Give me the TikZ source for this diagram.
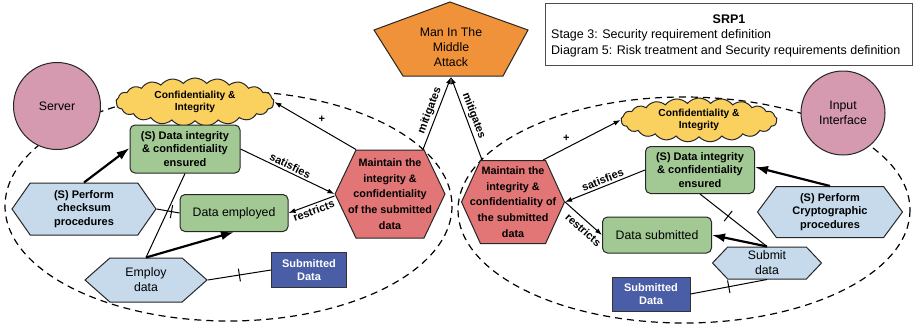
\documentclass[tikz,border=0pt]{standalone}
\usepackage{fontspec}
\setmainfont{Liberation Sans}
\usetikzlibrary{shapes.geometric,shapes.symbols,arrows.meta}
\definecolor{cpink}{HTML}{D599B0}
\definecolor{cyellow}{HTML}{FAD05F}
\definecolor{cgreen}{HTML}{A2C994}
\definecolor{cblue}{HTML}{C6DAEC}
\definecolor{cred}{HTML}{E27676}
\definecolor{cdark}{HTML}{4A5EA8}
\definecolor{corange}{HTML}{F09239}
\newcommand{\bfnt}{\fontsize{11}{13.3}\selectfont\bfseries}
\newcommand{\cfnt}{\fontsize{10.2}{12.5}\selectfont\bfseries}
\newcommand{\rgfnt}{\fontsize{12.3}{15}\selectfont}
\newcommand{\hxfnt}{\fontsize{10.8}{15.8}\selectfont\bfseries}
\newcommand{\ttlfnt}{\fontsize{12.5}{16}\selectfont}
\begin{document}
\begin{tikzpicture}[x=1pt,y=-1pt,
  bdr/.style={draw=black!85, line width=1pt},
  circ/.style={circle, bdr, fill=cpink, align=center, font=\rgfnt, inner sep=0pt},
  cld/.style={cloud, cloud puffs=21, cloud puff arc=100, cloud ignores aspect, bdr, fill=cyellow, inner sep=0pt},
  cldtxt/.style={align=center, font=\cfnt, inner sep=0pt},
  gbox/.style={rectangle, rounded corners=5pt, bdr, fill=cgreen, align=center, inner sep=1pt},
  bhex/.style={signal, signal to=east and west, bdr, fill=cblue, align=center, inner sep=1pt},
  rhexs/.style={signal, signal to=east and west, bdr, fill=cred, align=center, font=\hxfnt, inner ysep=1pt},
  dbox/.style={rectangle, draw=black!80, line width=1pt, fill=cdark, text=white, font=\bfnt, align=center, inner sep=1pt},
  conn/.style={line width=1pt, -{Latex[length=7pt,width=5pt]}},
  rconn/.style={line width=1pt, {Latex[length=7pt,width=5pt]}-},
  strong/.style={line width=2.2pt, -{Latex[length=13pt,width=9pt]}},
  pline/.style={line width=1pt},
  lbl/.style={font=\bfnt, sloped, inner sep=2pt},
  tickmark/.style={sloped, draw, line width=1pt, minimum height=13pt, minimum width=0pt, inner sep=0pt},
  bnd/.style={draw=black, line width=1.2pt, dash pattern=on 7pt off 5pt}
]
\useasboundingbox (0,0) rectangle (915,327);

% boundaries
\draw[bnd] (228.5,206) ellipse [x radius=223.5, y radius=115];
\draw[bnd] (684,210) ellipse [x radius=226, y radius=113];

% title box
\node[draw=black!70, line width=0.8pt, fill=white, minimum width=367pt, minimum height=62pt, anchor=north west] (title) at (545,3) {};
\node[font=\ttlfnt\bfseries] (ttl1) at (729,19) {SRP1};
\node[font=\ttlfnt, anchor=west, inner sep=0pt] (ttl2) at (551,35) {Stage 3: Security requirement definition};
\node[font=\ttlfnt, anchor=west, inner sep=0pt] (ttl3) at (551,51) {Diagram 5: Risk treatment and Security requirements definition};

% attack
\draw[bdr, fill=corange] (450,2) -- (528,30) -- (503,76) -- (403,76) -- (374,30) -- cycle;
\node[font=\rgfnt, align=center] (mitm) at (451,47) {Man In The\\Middle\\Attack};
\coordinate (mtip) at (451,77);

% left side
\node[circ, minimum size=87pt] (server) at (57,106) {Server};
\node[cld, minimum width=158pt, minimum height=48pt] (lcloud) at (195,102) {};
\node[cldtxt] (lcloudtxt) at (lcloud.center) {Confidentiality \&\\Integrity};
\node[gbox, font=\bfnt, minimum width=110pt, minimum height=48pt] (lsat) at (185,149) {(S) Data integrity\\\& confidentiality\\ensured};
\node[gbox, font=\rgfnt, minimum width=108pt, minimum height=37pt] (lemp) at (234,213) {Data employed};
\node[bhex, font=\bfnt, minimum width=144pt, minimum height=52pt, signal pointer angle=110] (lcheck) at (84,209) {(S) Perform\\checksum\\procedures};
\node[bhex, font=\rgfnt, minimum width=122pt, minimum height=44pt, signal pointer angle=83] (lemploy) at (146,280) {Employ\\data};
\node[dbox, minimum width=75pt, minimum height=35pt] (ldata) at (309,270) {Submitted\\Data};
\node[rhexs, minimum width=110pt, minimum height=88pt, signal pointer angle=129, inner xsep=-11pt] (lhex) at (390,194) {Maintain the\\integrity \&\\confidentiality\\of the submitted\\data};

% right side
\node[circ, minimum size=84pt] (input) at (843,113) {Input\\Interface};
\node[cld, minimum width=156pt, minimum height=44pt] (rcloud) at (699,120) {};
\node[cldtxt] (rcloudtxt) at (rcloud.center) {Confidentiality \&\\Integrity};
\node[gbox, font=\bfnt, minimum width=109pt, minimum height=47pt] (rsat) at (700,170) {(S) Data integrity\\\& confidentiality\\ensured};
\node[gbox, font=\rgfnt, minimum width=109pt, minimum height=36pt] (rsub) at (657,235) {Data submitted};
\node[bhex, font=\bfnt, minimum width=145pt, minimum height=51pt, signal pointer angle=107] (rcrypt) at (830,212) {(S) Perform\\Cryptographic\\procedures};
\node[bhex, font=\rgfnt, minimum width=109pt, minimum height=32pt, signal pointer angle=93, inner ysep=0pt] (rsubmit) at (767,263) {Submit\\data};
\node[dbox, minimum width=78pt, minimum height=34pt] (rdata) at (651,294) {Submitted\\Data};
\node[rhexs, minimum width=103pt, minimum height=83pt, signal pointer angle=131, inner xsep=-13pt] (rhex) at (513,202) {Maintain the\\integrity \&\\confidentiality of\\the submitted\\data};

% left connectors
\draw[conn] ([xshift=-34pt]lhex.north) -- (lcloud.east) node[pos=0.42, above=3pt, font=\bfnt]{+};
\draw[conn] (lsat.east) -- (lhex.west) node[midway, lbl, above]{satisfies};
\draw[rconn] (lemp.east) -- ([yshift=-2pt]lhex.west) node[midway, lbl, below]{restricts};
\draw[conn] ([xshift=33pt]lhex.north) -- (mtip) node[midway, lbl, above]{mitigates};
\draw[strong] (lcheck.north) -- ([yshift=1pt]lsat.west);
\draw[pline] (lcheck.east) -- (lemp.west) node[pos=0.65, tickmark]{};
\draw[pline] (lemploy.north) -- (lsat.south);
\draw[strong] (lemploy.north) -- (lemp.south);
\draw[pline] (lemploy.east) -- (ldata.west) node[pos=0.5, tickmark]{};

% right connectors
\draw[rconn] (mtip) -- ([xshift=-31pt]rhex.north) node[midway, lbl, above]{mitigates};
\draw[conn] ([xshift=30pt]rhex.north) -- (rcloud.west) node[pos=0.3, above=3pt, font=\bfnt]{+};
\draw[rconn] (rhex.east) -- (rsat.west) node[midway, lbl, above]{satisfies};
\draw[conn] (rhex.east) -- (rsub.west) node[pos=0.65, lbl, below=2pt]{restricts};
\draw[strong] (rcrypt.north) -- ([yshift=3pt]rsat.east);
\draw[strong] (rsubmit.north) -- (rsub.east);
\draw[pline] (rsat.south) -- (rsubmit.north) node[pos=0.42, tickmark]{};
\draw[pline] (rsubmit.south) -- (rdata.east) node[midway, tickmark]{};
\end{tikzpicture}
\end{document}
